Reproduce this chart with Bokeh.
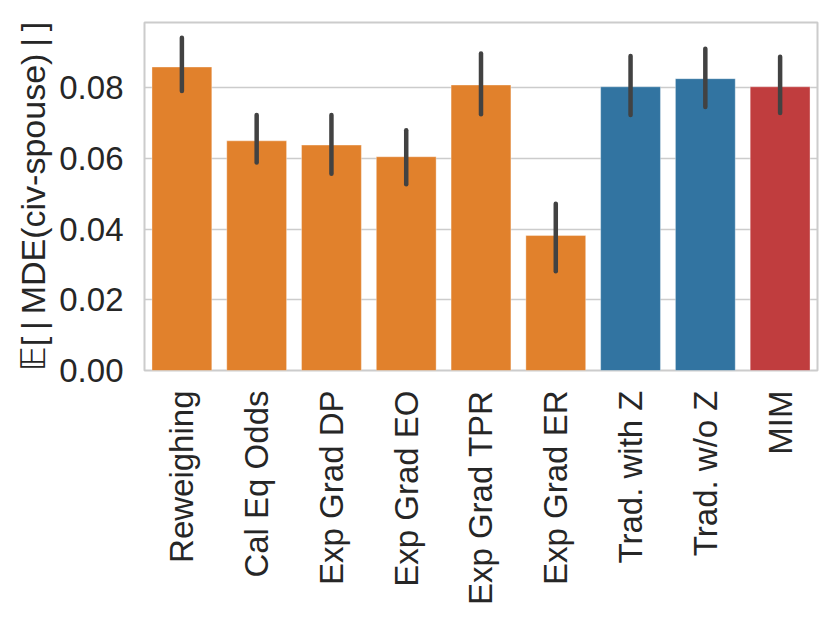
from bokeh.plotting import figure
from bokeh.models import ColumnDataSource, FixedTicker, Range1d, CustomJSTickFormatter
from bokeh.embed import file_html
from bokeh.resources import INLINE

methods = ["Reweighing", "Cal Eq Odds", "Exp Grad DP", "Exp Grad EO", "Exp Grad TPR",
           "Exp Grad ER", "Trad. with Z", "Trad. w/o Z", "MIM"]
means = [0.0859, 0.0650, 0.0638, 0.0605, 0.0808, 0.0382, 0.0803, 0.0826, 0.0803]
ci_low = [0.0791, 0.0589, 0.0557, 0.0527, 0.0725, 0.0281, 0.0723, 0.0746, 0.0729]
ci_high = [0.0942, 0.0723, 0.0723, 0.0680, 0.0897, 0.0472, 0.0890, 0.0911, 0.0888]
groups = ["fair", "fair", "fair", "fair", "fair", "fair", "trad", "trad", "mim"]
y_ticks = [0.0, 0.02, 0.04, 0.06, 0.08]

palette = {"fair": "#e1812c", "trad": "#3274a1", "mim": "#c03d3e"}
colors = [palette[g] for g in groups]

src = ColumnDataSource(dict(x=methods, top=means, lo=ci_low, hi=ci_high, color=colors))

p = figure(x_range=methods, y_range=Range1d(0, 0.0985), width=823, height=615,
           output_backend="svg", toolbar_location=None,
           min_border_left=144, min_border_right=6, min_border_top=22, min_border_bottom=245)

p.vbar(x="x", top="top", width=0.8, fill_color="color", line_color="white",
       line_alpha=0.35, line_width=1, source=src)
p.segment(x0="x", x1="x", y0="lo", y1="hi", line_color="#424242", line_width=4.5,
          line_cap="round", source=src)

p.x_range.range_padding = 0
p.xgrid.grid_line_color = None
p.ygrid.grid_line_color = "#cccccc"
p.ygrid.grid_line_width = 1.6
p.outline_line_color = "#cccccc"
p.outline_line_width = 2
p.background_fill_color = "white"
p.border_fill_color = "white"

p.yaxis.ticker = FixedTicker(ticks=y_ticks)
p.yaxis.formatter = CustomJSTickFormatter(code="return tick.toFixed(2);")

for ax in (p.xaxis[0], p.yaxis[0]):
    ax.axis_line_color = None
    ax.major_tick_line_color = None
    ax.minor_tick_line_color = None
    ax.major_label_text_font = "Liberation Sans"
    ax.major_label_text_font_size = "33px"
    ax.major_label_text_color = "#262626"
p.yaxis.major_label_standoff = 15
p.xaxis.major_label_standoff = 14

p.xaxis.major_label_orientation = 1.5707963
p.yaxis.axis_label = "𝔼[\u2009|\u2009MDE(civ-spouse)\u2009|\u2009]"
p.yaxis.axis_label_text_font = "Liberation Sans"
p.yaxis.axis_label_text_font_style = "normal"
p.yaxis.axis_label_text_font_size = "34px"
p.yaxis.axis_label_text_color = "#262626"
p.yaxis.axis_label_standoff = 4

open("out.html", "w").write(file_html(p, INLINE))
